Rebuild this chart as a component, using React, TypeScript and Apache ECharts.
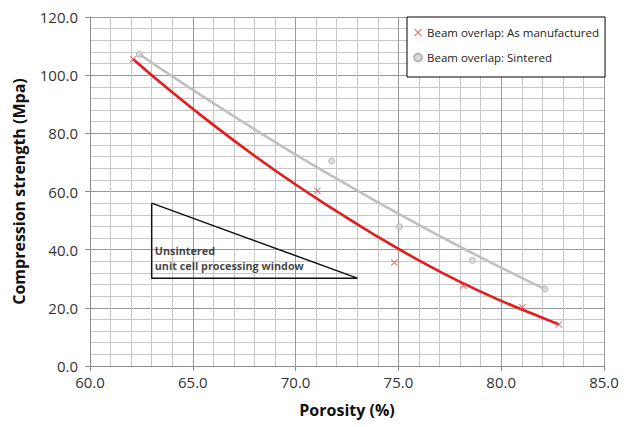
import React, { useEffect, useRef } from "react";
import * as echarts from "echarts";

const xTicks = { min: 60, max: 85, step: 5 };
const yTicks = { min: 0, max: 120, step: 20 };

const manufacturedPts: [number, number][] = [
  [62.1, 105.5], [71.06, 60.3], [74.8, 35.6], [78.16, 27.6], [81.03, 20.2], [82.8, 14.3],
];
const sinteredPts: [number, number][] = [
  [62.4, 107.2], [71.75, 70.5], [75.05, 47.9], [78.6, 36.3], [82.13, 26.5],
];
const manufacturedFit: [number, number][] = [
  [62.1, 105.5], [64, 94.1], [66, 82.9], [68, 72.3], [70, 62.4], [72, 53.2], [74, 44.4],
  [76, 36.3], [78, 28.9], [80, 22.4], [82, 16.6], [82.8, 14.3],
];
const sinteredFit: [number, number][] = [
  [62.4, 107.2], [64, 99.6], [66, 90.4], [68, 81.4], [70, 72.7], [72, 64.4], [74, 56.3],
  [76, 48.5], [78, 41.0], [80, 33.8], [82.1, 26.5],
];
const windowTriangle: [number, number][] = [
  [63, 56], [63, 30.2], [73, 30.2], [63, 56],
];
const windowLabelPos: [number, number][] = [[63.15, 37.3]];
const windowLabel = "Unsintered\nunit cell processing window";
const seriesNames = ["Beam overlap: As manufactured", "Beam overlap: Sintered"];

const FONT = "Open Sans";
const CROSS = "path://M0,1L1,0L5,4L9,0L10,1L6,5L10,9L9,10L5,6L1,10L0,9L4,5Z";

export default function App() {
  const ref = useRef<HTMLDivElement>(null);
  useEffect(() => {
    document.body.style.margin = "0";
    const chart = echarts.init(ref.current!, null, { renderer: "svg" });
    const axisCommon = {
      type: "value" as const,
      axisLine: { show: true, lineStyle: { color: "#8c8c8c", width: 1 } },
      axisTick: { show: true, length: 5, lineStyle: { color: "#8c8c8c" } },
      splitLine: { show: true, lineStyle: { color: "#999999", width: 1 } },
      minorTick: { show: false, splitNumber: 5 },
      minorSplitLine: { show: true, lineStyle: { color: "#c6c6c6", width: 1 } },
      axisLabel: {
        formatter: (v: number) => v.toFixed(1),
        fontFamily: FONT,
        fontSize: 15,
        color: "#333",
      },
      nameLocation: "middle" as const,
      nameTextStyle: { fontFamily: FONT, fontSize: 16, fontWeight: "bold" as const, color: "#111" },
    };
    chart.setOption({
      animation: false,
      backgroundColor: "#fff",
      grid: { left: 90, right: 20, top: 17, bottom: 61 },
      xAxis: {
        ...axisCommon,
        min: xTicks.min,
        max: xTicks.max,
        interval: xTicks.step,
        name: "Porosity (%)",
        nameGap: 36,
        axisLabel: { ...axisCommon.axisLabel, margin: 8 },
      },
      yAxis: {
        ...axisCommon,
        min: yTicks.min,
        max: yTicks.max,
        interval: yTicks.step,
        name: "Compression strength (Mpa)",
        nameGap: 63,
        axisLabel: { ...axisCommon.axisLabel, margin: 12 },
      },
      legend: {
        data: seriesNames,
        orient: "vertical",
        left: 407,
        top: 17,
        itemWidth: 8,
        itemHeight: 8,
        itemGap: 10,
        padding: [8, 6, 12, 6],
        borderColor: "#000",
        borderWidth: 1,
        backgroundColor: "#fff",
        textStyle: { fontFamily: FONT, fontSize: 11.5, color: "#222", lineHeight: 15 },
      },
      series: [
        {
          type: "line",
          data: manufacturedFit,
          smooth: true,
          showSymbol: false,
          silent: true,
          lineStyle: { color: "#e41a1c", width: 2.6 },
          z: 3,
        },
        {
          type: "line",
          data: sinteredFit,
          smooth: true,
          showSymbol: false,
          silent: true,
          lineStyle: { color: "#c0c0c0", width: 2.6 },
          z: 3,
        },
        {
          type: "line",
          data: windowTriangle,
          showSymbol: false,
          silent: true,
          lineStyle: { color: "#111", width: 1.5 },
          z: 3,
        },
        {
          type: "scatter",
          data: windowLabelPos,
          symbolSize: 0,
          silent: true,
          label: {
            show: true,
            position: "right",
            distance: 0,
            formatter: windowLabel,
            fontFamily: FONT,
            fontSize: 10.8,
            fontWeight: "bold",
            lineHeight: 15,
            color: "#111",
            align: "left",
          },
          z: 4,
        },
        {
          name: seriesNames[0],
          type: "scatter",
          data: manufacturedPts,
          symbol: CROSS,
          symbolSize: 7,
          itemStyle: { color: "#e8474c" },
          z: 5,
        },
        {
          name: seriesNames[1],
          type: "scatter",
          data: sinteredPts,
          symbol: "circle",
          symbolSize: 6,
          itemStyle: { color: "#d4d4d4", borderColor: "#a8a8a8", borderWidth: 1 },
          z: 5,
        },
      ],
    });
    return () => chart.dispose();
  }, []);
  return <div ref={ref} style={{ width: 624, height: 427 }} />;
}
